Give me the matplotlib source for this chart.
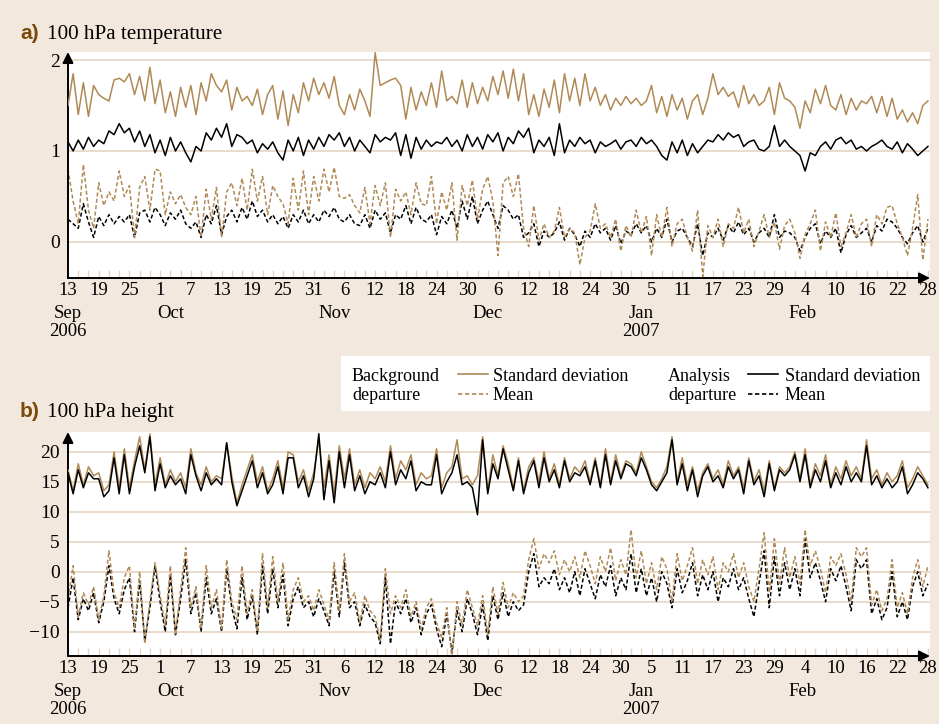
import numpy as np
import matplotlib
matplotlib.use("Agg")
import matplotlib.pyplot as plt
from matplotlib.lines import Line2D
from matplotlib.patches import Rectangle

# one value per day, 13 Sep 2006 .. 28 Feb 2007 (169 days)
# rows: Sep(13-30), Oct, Nov, Dec, Jan, Feb

# a) 100 hPa temperature
t_bg_std = [
    1.50, 1.85, 1.40, 1.75, 1.38, 1.72, 1.62, 1.58, 1.55, 1.78, 1.80, 1.76, 1.85, 1.62, 1.82, 1.55, 1.92, 1.52,
    1.78, 1.42, 1.65, 1.38, 1.70, 1.48, 1.72, 1.40, 1.75, 1.55, 1.85, 1.72, 1.65, 1.78, 1.45, 1.70, 1.55, 1.60,
    1.50, 1.68, 1.40, 1.62, 1.72, 1.35, 1.66, 1.28, 1.62, 1.42, 1.75, 1.55, 1.80,
    1.62, 1.75, 1.58, 1.82, 1.50, 1.40, 1.62, 1.45, 1.68, 1.55, 1.38, 2.08, 1.72, 1.75, 1.78, 1.80, 1.72, 1.35,
    1.70, 1.45, 1.65, 1.50, 1.75, 1.48, 1.88, 1.55, 1.60, 1.52, 1.78, 1.48,
    1.75, 1.52, 1.70, 1.55, 1.82, 1.62, 1.88, 1.58, 1.90, 1.55, 1.85, 1.40, 1.62, 1.38, 1.68, 1.48, 1.78, 1.42,
    1.85, 1.55, 1.80, 1.50, 1.85, 1.55, 1.70, 1.50, 1.62, 1.45, 1.58, 1.50, 1.60,
    1.52, 1.58, 1.50, 1.55, 1.72, 1.42, 1.60, 1.38, 1.62, 1.45, 1.58, 1.35, 1.55, 1.62, 1.40, 1.58, 1.85, 1.62,
    1.70, 1.60, 1.65, 1.48, 1.72, 1.52, 1.62, 1.50, 1.55, 1.70, 1.40, 1.75, 1.58,
    1.55, 1.48, 1.25, 1.55, 1.42, 1.68, 1.52, 1.72, 1.50, 1.45, 1.62, 1.40, 1.58, 1.45, 1.55, 1.52, 1.60, 1.42,
    1.60, 1.38, 1.58, 1.35, 1.45, 1.32, 1.42, 1.30, 1.50, 1.55,
]
t_an_std = [
    1.10, 1.00, 1.12, 1.02, 1.15, 1.05, 1.12, 1.08, 1.22, 1.18, 1.30, 1.20, 1.25, 1.10, 1.22, 1.05, 1.18, 0.98,
    1.12, 0.95, 1.15, 1.00, 1.10, 0.98, 0.88, 1.05, 1.00, 1.20, 1.12, 1.25, 1.15, 1.30, 1.05, 1.18, 1.15, 1.08,
    1.12, 0.98, 1.08, 1.02, 1.10, 0.98, 0.90, 1.12, 1.00, 1.15, 0.95, 1.12, 1.02,
    1.15, 1.05, 1.18, 1.12, 1.20, 1.05, 1.15, 1.00, 1.12, 1.05, 0.98, 1.18, 1.10, 1.15, 1.12, 1.20, 0.95, 1.18,
    0.92, 1.15, 1.02, 1.12, 1.05, 1.10, 1.08, 1.15, 1.05, 1.12, 1.00, 1.18,
    1.05, 1.15, 1.02, 1.18, 1.10, 1.20, 1.00, 1.15, 1.08, 1.22, 1.15, 1.25, 0.98, 1.12, 1.05, 1.15, 0.95, 1.30,
    0.98, 1.12, 1.05, 1.15, 1.08, 1.12, 0.98, 1.10, 1.05, 1.08, 1.12, 1.02, 1.10,
    1.12, 1.05, 1.15, 1.08, 1.12, 1.05, 0.95, 0.90, 1.10, 0.98, 1.12, 0.95, 1.08, 0.98, 1.05, 1.12, 1.10, 1.18,
    1.12, 1.20, 1.15, 1.18, 1.05, 1.10, 1.12, 1.02, 1.00, 1.05, 1.28, 1.05, 1.12,
    1.05, 1.00, 0.95, 0.78, 0.98, 0.95, 1.05, 1.10, 1.02, 1.12, 1.15, 1.08, 1.12, 1.02, 1.05, 1.00, 1.05, 1.08,
    1.12, 1.05, 1.02, 1.10, 0.98, 1.08, 1.02, 0.95, 1.00, 1.05,
]
t_bg_mean = [
    0.80, 0.45, 0.20, 0.85, 0.35, 0.15, 0.65, 0.40, 0.55, 0.45, 0.78, 0.50, 0.62, 0.05, 0.60, 0.72, 0.35, 0.80,
    0.78, 0.30, 0.55, 0.42, 0.52, 0.38, 0.30, 0.50, 0.05, 0.58, 0.25, 0.60, 0.05, 0.55, 0.65, 0.40, 0.70, 0.35,
    0.80, 0.45, 0.72, 0.30, 0.62, 0.50, 0.42, 0.20, 0.70, 0.35, 0.78, 0.30, 0.72,
    0.45, 0.80, 0.55, 0.82, 0.50, 0.48, 0.52, 0.40, 0.32, 0.60, 0.20, 0.62, 0.40, 0.65, 0.05, 0.58, 0.45, 0.55,
    0.30, 0.65, 0.42, 0.40, 0.72, 0.20, 0.55, 0.35, 0.65, 0.02, 0.62, 0.40,
    0.68, 0.25, 0.58, 0.72, 0.45, -0.15, 0.65, 0.72, 0.50, 0.75, 0.15, -0.05, 0.40, 0.02, 0.20, 0.05, 0.12, 0.38,
    0.05, 0.15, 0.10, -0.25, 0.05, 0.12, 0.42, 0.15, 0.20, 0.05, 0.25, -0.10, 0.18,
    0.05, 0.35, 0.10, 0.28, -0.15, 0.30, 0.05, 0.38, -0.05, 0.20, 0.25, 0.05, -0.10, 0.35, -0.38, 0.18, 0.05, 0.25,
    -0.05, 0.20, 0.15, 0.38, 0.10, 0.25, -0.05, 0.12, 0.30, 0.05, 0.22, -0.08, 0.18,
    0.25, 0.10, -0.18, 0.08, 0.20, 0.35, -0.10, 0.22, 0.05, 0.32, -0.05, 0.10, 0.30, 0.05, 0.20, 0.25, -0.05, 0.30,
    0.20, 0.38, 0.40, 0.20, 0.05, -0.15, 0.15, 0.52, -0.20, 0.25,
]
t_an_mean = [
    0.25, 0.20, 0.15, 0.42, 0.22, 0.05, 0.28, 0.18, 0.30, 0.20, 0.28, 0.22, 0.30, 0.05, 0.32, 0.35, 0.22, 0.38,
    0.30, 0.18, 0.32, 0.25, 0.35, 0.20, 0.15, 0.22, 0.05, 0.30, 0.20, 0.40, 0.08, 0.28, 0.35, 0.22, 0.38, 0.25,
    0.45, 0.28, 0.35, 0.22, 0.30, 0.20, 0.28, 0.15, 0.30, 0.22, 0.35, 0.20, 0.30,
    0.22, 0.35, 0.28, 0.38, 0.25, 0.22, 0.30, 0.20, 0.18, 0.30, 0.15, 0.35, 0.25, 0.32, 0.10, 0.30, 0.25, 0.40,
    0.20, 0.38, 0.25, 0.22, 0.30, 0.08, 0.28, 0.20, 0.35, 0.15, 0.45, 0.25,
    0.50, 0.20, 0.35, 0.45, 0.30, 0.15, 0.40, 0.35, 0.25, 0.30, 0.05, 0.10, 0.20, -0.05, 0.12, 0.05, 0.10, 0.22,
    0.02, 0.15, 0.08, -0.05, 0.12, 0.05, 0.20, 0.10, 0.15, 0.02, 0.18, -0.02, 0.12,
    0.08, 0.20, 0.10, 0.18, 0.00, 0.15, 0.05, 0.25, 0.00, 0.12, 0.15, 0.05, -0.05, 0.20, -0.15, 0.10, 0.05, 0.15,
    0.02, 0.18, 0.10, 0.22, 0.08, 0.15, 0.00, 0.10, 0.15, 0.05, 0.30, 0.05, 0.12,
    0.10, 0.05, -0.10, 0.05, 0.15, 0.20, -0.02, 0.12, 0.05, 0.15, -0.12, 0.08, 0.18, 0.05, 0.10, 0.15, 0.00, 0.18,
    0.12, 0.25, 0.22, 0.15, 0.05, -0.02, 0.10, 0.18, 0.00, 0.15,
]

# b) 100 hPa height
h_bg_std = [
    17.0, 13.5, 18.0, 14.5, 17.5, 16.0, 16.5, 13.5, 14.5, 20.0, 14.0, 20.5, 14.0, 18.5, 22.5, 17.0, 23.0, 14.5,
    19.0, 14.5, 17.0, 15.0, 16.5, 14.0, 20.5, 16.5, 14.5, 17.5, 15.0, 16.0, 15.5, 21.5, 16.0, 11.5, 14.5, 17.0,
    19.5, 15.0, 17.5, 13.5, 15.5, 18.5, 14.0, 20.0, 19.5, 15.0, 17.0, 13.5, 16.5,
    22.0, 14.0, 19.5, 13.0, 21.0, 15.5, 20.5, 14.5, 17.0, 14.0, 16.5, 15.5, 17.5, 15.0, 21.0, 15.5, 18.5, 17.0,
    19.5, 14.5, 16.5, 15.5, 16.0, 20.5, 14.0, 16.5, 17.5, 22.0, 15.5, 16.0,
    14.5, 16.0, 22.5, 13.5, 19.5, 16.0, 21.0, 18.0, 14.0, 19.0, 13.5, 17.5, 19.0, 15.0, 20.0, 15.5, 18.0, 14.5,
    19.0, 15.5, 17.5, 16.5, 18.5, 15.0, 19.0, 14.5, 20.5, 15.0, 19.5, 16.0, 18.5,
    18.0, 16.5, 20.0, 17.5, 15.0, 14.0, 15.5, 17.5, 22.5, 15.0, 19.0, 14.5, 17.5, 13.5, 16.5, 18.0, 15.5, 17.0,
    14.5, 18.5, 16.0, 17.5, 14.0, 19.0, 15.0, 17.0, 13.5, 18.5, 14.0, 17.5, 16.5,
    17.5, 20.0, 15.5, 20.5, 14.5, 18.0, 16.0, 19.5, 14.5, 17.5, 15.5, 18.5, 16.0, 17.5, 15.5, 22.0, 15.5, 17.0,
    14.5, 16.5, 15.0, 16.0, 18.5, 14.0, 15.5, 17.5, 16.0, 14.5,
]
h_an_std = [
    16.5, 13.0, 17.0, 14.0, 16.5, 15.5, 15.5, 12.5, 13.5, 19.0, 13.0, 19.5, 13.0, 17.5, 21.0, 16.5, 22.5, 13.5,
    18.0, 14.0, 16.0, 14.5, 15.5, 13.0, 19.5, 16.0, 13.5, 16.5, 14.5, 15.5, 14.5, 21.5, 15.0, 11.0, 13.5, 16.0,
    18.5, 14.0, 16.5, 13.0, 14.5, 17.5, 13.0, 19.0, 19.0, 14.0, 16.0, 12.5, 15.5,
    23.0, 12.0, 18.5, 11.5, 20.0, 14.0, 19.5, 13.5, 16.0, 13.0, 15.0, 14.5, 16.5, 14.0, 20.0, 14.5, 17.0, 15.5,
    18.5, 13.5, 15.0, 14.5, 14.5, 19.5, 13.0, 15.0, 16.5, 19.5, 14.5, 15.0,
    14.0, 9.5, 22.0, 13.0, 18.0, 15.5, 20.5, 17.0, 13.5, 18.5, 13.0, 16.5, 18.5, 14.0, 19.0, 15.0, 17.0, 14.0,
    18.5, 15.0, 16.5, 16.0, 17.5, 14.5, 18.5, 14.0, 19.5, 14.5, 18.5, 15.5, 18.0,
    17.5, 16.0, 19.0, 17.0, 14.5, 13.5, 15.0, 16.5, 22.0, 14.5, 18.0, 13.5, 17.0, 12.5, 16.0, 17.5, 15.0, 16.0,
    14.0, 17.5, 15.5, 17.0, 13.0, 18.5, 14.5, 16.0, 12.5, 18.0, 13.5, 17.0, 16.0,
    17.0, 19.5, 15.0, 19.5, 14.0, 17.0, 15.0, 18.5, 14.0, 16.5, 14.5, 17.5, 15.0, 16.5, 15.0, 21.0, 14.5, 16.0,
    14.0, 15.5, 14.0, 15.0, 17.5, 13.0, 14.5, 16.5, 15.5, 14.0,
]
h_bg_mean = [
    -4.5, 1.0, -7.5, -3.5, -5.5, -2.5, -8.0, -4.0, 3.5, -3.5, -6.0, -1.0, 1.0, -9.5, 0.0, -12.0, -5.0, 1.5,
    -4.0, -9.0, 1.0, -10.5, -3.0, 4.0, -6.0, -2.5, -9.5, 1.0, -6.0, -3.0, -9.5, 2.0, -5.0, -8.0, 1.0, -7.0,
    -3.0, -10.0, 3.0, -6.0, 2.5, -5.0, 1.5, -8.0, -3.0, -1.0, -5.0, -4.0, -6.5,
    -3.0, -5.5, -8.0, 1.5, -6.5, 3.0, -5.0, -3.5, -8.5, -4.0, -6.5, -7.5, -11.5, 0.5, -7.0, -4.0, -6.0, -3.0,
    -7.5, -5.0, -9.5, -6.0, -4.5, -8.5, -11.0, -6.0, -14.5, -5.0, -9.0, -3.0,
    -6.0, -9.0, -4.0, -10.5, -2.5, -7.0, -1.8, -6.0, -3.5, -5.0, -4.0, 2.0, 5.5, 0.5, 3.0, 1.5, 3.5, -0.5,
    2.0, 0.0, 2.5, -1.0, 3.5, 1.0, -2.0, 2.5, 0.0, 4.0, -1.5, 2.0, -0.5,
    7.0, -1.0, 3.5, -2.0, 1.5, -3.0, 2.5, 0.5, -5.0, 3.0, -1.5, 1.0, 4.0, -2.0, 2.0, -0.5, 2.5, -3.0,
    1.5, 0.0, 3.0, -1.0, 1.5, -2.5, -5.0, 0.5, 6.5, -3.5, 5.5, -2.0, 4.0,
    -1.0, 2.5, -2.0, 7.0, 1.0, 3.5, 0.5, -3.5, 2.5, 1.0, 3.0, -0.5, -5.0, 4.0, 2.5, 4.0, -5.5, -3.0,
    -6.5, -4.5, 2.0, -6.0, -3.5, -7.0, -1.0, 2.0, -2.5, 1.0,
]
h_an_mean = [
    -6.0, -1.0, -8.0, -4.5, -6.5, -3.5, -8.5, -5.0, 1.0, -4.5, -7.0, -3.0, -1.0, -10.0, -1.5, -11.5, -6.0, 1.0,
    -5.0, -10.0, -0.5, -10.5, -4.5, 2.0, -7.0, -3.5, -10.0, -1.0, -7.0, -4.5, -10.0, 0.5, -6.0, -9.5, -1.0, -8.0,
    -4.0, -10.5, 1.0, -7.0, 0.5, -6.0, -0.5, -9.0, -4.5, -2.5, -6.0, -5.0, -7.5,
    -4.5, -6.5, -9.0, 0.0, -7.5, 1.5, -6.0, -5.0, -9.0, -5.5, -7.5, -8.5, -12.0, -1.0, -12.0, -5.0, -7.0, -4.5,
    -8.5, -6.0, -10.5, -7.0, -5.5, -9.5, -12.5, -7.0, -13.5, -6.5, -10.0, -4.5,
    -7.0, -10.5, -5.5, -11.5, -4.0, -8.0, -3.5, -7.5, -5.0, -6.5, -5.5, 0.0, 3.0, -2.5, -1.0, -2.0, 0.5, -3.0,
    -1.0, -3.5, 0.0, -4.0, 0.5, -2.0, -4.5, -0.5, -2.5, 1.0, -4.0, -1.0, -3.0,
    3.0, -3.5, 0.5, -4.0, -1.0, -5.0, 0.0, -2.0, -6.0, 0.5, -3.5, -1.5, 1.5, -4.0, -0.5, -3.0, 0.0, -5.0,
    -1.0, -2.5, 0.5, -3.0, -1.0, -4.5, -7.5, -2.0, 3.5, -6.0, 2.5, -4.0, 1.5,
    -3.0, 0.5, -4.0, 5.5, -1.0, 1.5, -1.5, -5.0, 0.5, -1.5, 1.0, -2.5, -6.5, 2.0, 0.5, 2.0, -7.0, -4.5,
    -8.0, -6.0, 0.0, -7.5, -5.0, -8.0, -2.5, 0.0, -4.0, -2.0,
]

tick_labels = ["13", "19", "25", "1", "7", "13", "19", "25", "31", "6", "12", "18", "24", "30",
               "6", "12", "18", "24", "30", "5", "11", "17", "23", "29", "4", "10", "16", "22", "28"]
month_names = ["Sep", "Oct", "Nov", "Dec", "Jan", "Feb"]
month_pos = [0, 20, 52, 82, 112, 143.5]
year_names = ["2006", "2007"]
year_pos = [0, 112]

BG = "#f3e8de"
GRID = "#e6d5c4"
BROWN = "#b08a55"
TITLE_BROWN = "#7a4a0a"
SERIF = "Liberation Serif"
W, H = 939, 724

days = np.arange(len(t_bg_std))

fig = plt.figure(figsize=(W / 100, H / 100), dpi=100, facecolor=BG)


def px_axes(left, top, right, bottom):
    return fig.add_axes([left / W, 1 - bottom / H, (right - left) / W, (bottom - top) / H])


def draw_panel(ax, bg_std, an_std, bg_mean, an_mean, yticks, ylim):
    ax.set_facecolor("white")
    for s in ax.spines.values():
        s.set_visible(False)
    ax.set_xlim(0, 168.4)
    ax.set_ylim(*ylim)
    for y in yticks:
        ax.axhline(y, color=GRID, lw=1.2, zorder=0)

    dash = (0, (2.6, 1.6))
    ax.plot(days, an_mean, color="black", lw=1.1, ls=dash, zorder=2)
    ax.plot(days, bg_mean, color=BROWN, lw=1.1, ls=dash, zorder=3)
    ax.plot(days, bg_std, color=BROWN, lw=1.1, zorder=4)
    ax.plot(days, an_std, color="black", lw=1.1, zorder=5)

    ax.set_yticks(yticks)
    ax.set_yticklabels([str(v).replace("-", "\u2212") for v in yticks], family=SERIF, fontsize=14)
    ax.tick_params(axis="y", length=0, pad=6)

    ax.set_xticks(range(0, 169, 6))
    ax.set_xticklabels(tick_labels, family=SERIF, fontsize=13.5)
    ax.set_xticks(range(0, 169, 2), minor=True)
    ax.tick_params(axis="x", which="both", direction="in", length=6, width=1.0,
                   color=GRID, pad=3)

    for name, pos in zip(month_names, month_pos):
        ax.text(pos, -0.178, name, transform=ax.get_xaxis_transform(), ha="center",
                va="baseline", family=SERIF, fontsize=13.5)
    for name, pos in zip(year_names, year_pos):
        ax.text(pos, -0.258, name, transform=ax.get_xaxis_transform(), ha="center",
                va="baseline", family=SERIF, fontsize=13.5)

    arrow = dict(arrowstyle="-|>", mutation_scale=16, color="black", lw=1.4,
                 shrinkA=0, shrinkB=0)
    ax.annotate("", xy=(0, 1.0), xytext=(0, 0), xycoords="axes fraction",
                textcoords="axes fraction", arrowprops=arrow, annotation_clip=False)
    ax.annotate("", xy=(1.0, 0), xytext=(0, 0), xycoords="axes fraction",
                textcoords="axes fraction", arrowprops=arrow, annotation_clip=False)


ax_a = px_axes(68, 52, 930, 278)
draw_panel(ax_a, t_bg_std, t_an_std, t_bg_mean, t_an_mean, [0, 1, 2], (-0.396, 2.088))

ax_b = px_axes(68, 432, 930, 656)
draw_panel(ax_b, h_bg_std, h_an_std, h_bg_mean, h_an_mean,
           [-10, -5, 0, 5, 10, 15, 20], (-14.05, 23.3))


def fx(x):
    return x / W


def fy(y):
    return 1 - y / H


# panel titles
fig.text(fx(20), fy(39), "a)", color=TITLE_BROWN, fontsize=15, fontweight="bold",
         family="Liberation Sans", va="baseline")
fig.text(fx(47), fy(39), "100 hPa temperature", fontsize=15.2, family=SERIF, va="baseline")
fig.text(fx(20), fy(417), "b)", color=TITLE_BROWN, fontsize=15, fontweight="bold",
         family="Liberation Sans", va="baseline")
fig.text(fx(47), fy(417), "100 hPa height", fontsize=15.2, family=SERIF, va="baseline")

# legend box
fig.add_artist(Rectangle((fx(341), fy(411)), fx(930) - fx(341), fy(356) - fy(411),
                         transform=fig.transFigure, facecolor="white", edgecolor="none"))
legend_groups = [
    (352, 458, 488, 493, "Background", BROWN),
    (668, 748, 778, 785, "Analysis", "black"),
]
for tx, l0, l1, lx, head, col in legend_groups:
    fig.text(fx(tx), fy(381), head, fontsize=13, family=SERIF, va="baseline")
    fig.text(fx(tx), fy(400), "departure", fontsize=13, family=SERIF, va="baseline")
    fig.add_artist(Line2D([fx(l0), fx(l1)], [fy(374), fy(374)], color=col, lw=1.2,
                          transform=fig.transFigure))
    fig.add_artist(Line2D([fx(l0), fx(l1)], [fy(394), fy(394)], color=col, lw=1.2,
                          ls=(0, (2.6, 1.6)), transform=fig.transFigure))
    fig.text(fx(lx), fy(381), "Standard deviation", fontsize=13, family=SERIF, va="baseline")
    fig.text(fx(lx), fy(400), "Mean", fontsize=13, family=SERIF, va="baseline")

fig.savefig("out.png", dpi=100, facecolor=BG)
